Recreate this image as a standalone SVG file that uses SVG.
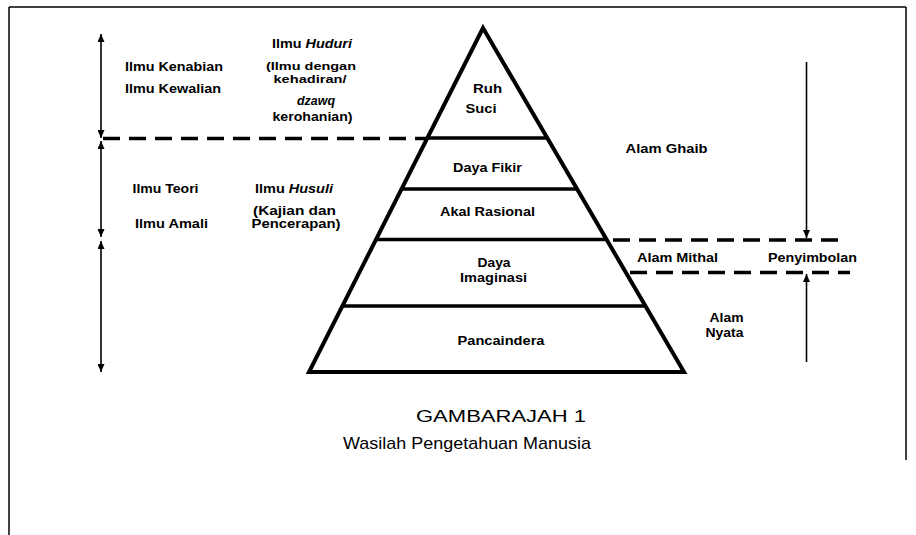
<svg xmlns="http://www.w3.org/2000/svg" width="916" height="535" viewBox="0 0 916 535">
<style>
.lbl{font-family:"Liberation Sans",Arial,sans-serif;font-weight:bold;font-size:12px;fill:#000;text-anchor:middle}
.sm{font-size:11px}
.cap{font-family:"Liberation Sans",Arial,sans-serif;font-size:17px;fill:#000;text-anchor:middle}
.it{font-style:italic}
.frame{stroke:#000;stroke-width:1.5;fill:none}
.pyr{stroke:#000;stroke-width:4;fill:none;stroke-linejoin:miter}
.tier{stroke:#000;stroke-width:3.5}
.dash{stroke:#000;stroke-width:3.5;stroke-dasharray:17 9;fill:none}
.arr{stroke:#000;stroke-width:1.6;fill:none}
</style>
<defs>
<marker id="ah" viewBox="0 0 8 7" refX="8" refY="3.5" markerWidth="8" markerHeight="7" markerUnits="userSpaceOnUse" orient="auto-start-reverse">
<path d="M0,0 L8,3.5 L0,7 z" fill="#000"/>
</marker>
</defs>
<rect width="916" height="535" fill="#fff"/>
<g id="frame">
<line class="frame" x1="9" y1="7" x2="906" y2="7"/>
<line class="frame" x1="9" y1="7" x2="9" y2="535"/>
<line class="frame" x1="906" y1="7" x2="906" y2="460"/>
</g>
<g id="pyramid">
<polygon class="pyr" points="483,28 684,372 309,372"/>
<line class="tier" x1="427" y1="138" x2="547" y2="138"/>
<line class="tier" x1="401.5" y1="189" x2="577" y2="189"/>
<line class="tier" x1="376" y1="239.5" x2="607" y2="239.5"/>
<line class="tier" x1="342" y1="306" x2="645.5" y2="306"/>
</g>
<g id="connectors">
<line class="arr" x1="101" y1="34" x2="101" y2="138" marker-start="url(#ah)" marker-end="url(#ah)"/>
<line class="arr" x1="101" y1="141" x2="101" y2="237" marker-start="url(#ah)" marker-end="url(#ah)"/>
<line class="arr" x1="101" y1="241" x2="101" y2="372" marker-start="url(#ah)" marker-end="url(#ah)"/>
<line class="arr" x1="806.5" y1="62" x2="806.5" y2="238" marker-end="url(#ah)"/>
<line class="arr" x1="806.5" y1="362" x2="806.5" y2="274" marker-end="url(#ah)"/>
<line class="dash" x1="103" y1="138.5" x2="427" y2="138.5"/>
<line class="dash" x1="613" y1="240" x2="842" y2="240"/>
<line class="dash" x1="630" y1="272.5" x2="850" y2="272.5"/>
</g>
<g id="n-kenabian"><text class="lbl" x="174" y="71" textLength="98" lengthAdjust="spacingAndGlyphs">Ilmu Kenabian</text></g>
<g id="n-kewalian"><text class="lbl" x="173" y="93" textLength="96" lengthAdjust="spacingAndGlyphs">Ilmu Kewalian</text></g>
<g id="n-huduri">
<text class="lbl" x="312" y="48" textLength="80" lengthAdjust="spacingAndGlyphs">Ilmu <tspan class="it">Huduri</tspan></text>
<text class="lbl sm" x="311" y="70" textLength="90" lengthAdjust="spacingAndGlyphs">(Ilmu dengan</text>
<text class="lbl sm" x="310" y="83" textLength="73" lengthAdjust="spacingAndGlyphs">kehadiran/</text>
<text class="lbl it" x="316" y="105" textLength="38" lengthAdjust="spacingAndGlyphs">dzawq</text>
<text class="lbl" x="312.5" y="121" textLength="80" lengthAdjust="spacingAndGlyphs">kerohanian)</text>
</g>
<g id="n-teori"><text class="lbl" x="165.5" y="193" textLength="66" lengthAdjust="spacingAndGlyphs">Ilmu Teori</text></g>
<g id="n-amali"><text class="lbl" x="171.5" y="228" textLength="73" lengthAdjust="spacingAndGlyphs">Ilmu Amali</text></g>
<g id="n-husuli">
<text class="lbl" x="294" y="193" textLength="78" lengthAdjust="spacingAndGlyphs">Ilmu <tspan class="it">Husuli</tspan></text>
<text class="lbl" x="294.5" y="215" textLength="83" lengthAdjust="spacingAndGlyphs">(Kajian dan</text>
<text class="lbl" x="296" y="228" textLength="89" lengthAdjust="spacingAndGlyphs">Pencerapan)</text>
</g>
<g id="n-ruhsuci">
<text class="lbl" x="487.5" y="93" textLength="29" lengthAdjust="spacingAndGlyphs">Ruh</text>
<text class="lbl" x="481" y="113" textLength="31" lengthAdjust="spacingAndGlyphs">Suci</text>
</g>
<g id="n-dayafikir"><text class="lbl" x="487.5" y="172" textLength="69" lengthAdjust="spacingAndGlyphs">Daya Fikir</text></g>
<g id="n-akal"><text class="lbl" x="487.5" y="216" textLength="95" lengthAdjust="spacingAndGlyphs">Akal Rasional</text></g>
<g id="n-imaginasi">
<text class="lbl" x="494" y="267" textLength="33" lengthAdjust="spacingAndGlyphs">Daya</text>
<text class="lbl" x="493.5" y="282" textLength="67" lengthAdjust="spacingAndGlyphs">Imaginasi</text>
</g>
<g id="n-panca"><text class="lbl" x="501" y="345" textLength="87" lengthAdjust="spacingAndGlyphs">Pancaindera</text></g>
<g id="n-ghaib"><text class="lbl" x="666.5" y="153" textLength="82" lengthAdjust="spacingAndGlyphs">Alam Ghaib</text></g>
<g id="n-mithal"><text class="lbl" x="677.5" y="262" textLength="81" lengthAdjust="spacingAndGlyphs">Alam Mithal</text></g>
<g id="n-penyimbolan"><text class="lbl" x="812.5" y="262" textLength="89" lengthAdjust="spacingAndGlyphs">Penyimbolan</text></g>
<g id="n-nyata">
<text class="lbl" x="726.5" y="322" textLength="34" lengthAdjust="spacingAndGlyphs">Alam</text>
<text class="lbl" x="724.5" y="337" textLength="38" lengthAdjust="spacingAndGlyphs">Nyata</text>
</g>
<g id="caption">
<text class="cap" x="501" y="422" textLength="170" lengthAdjust="spacingAndGlyphs">GAMBARAJAH 1</text>
<text class="cap" x="467" y="449" textLength="248" lengthAdjust="spacingAndGlyphs">Wasilah Pengetahuan Manusia</text>
</g>
</svg>
